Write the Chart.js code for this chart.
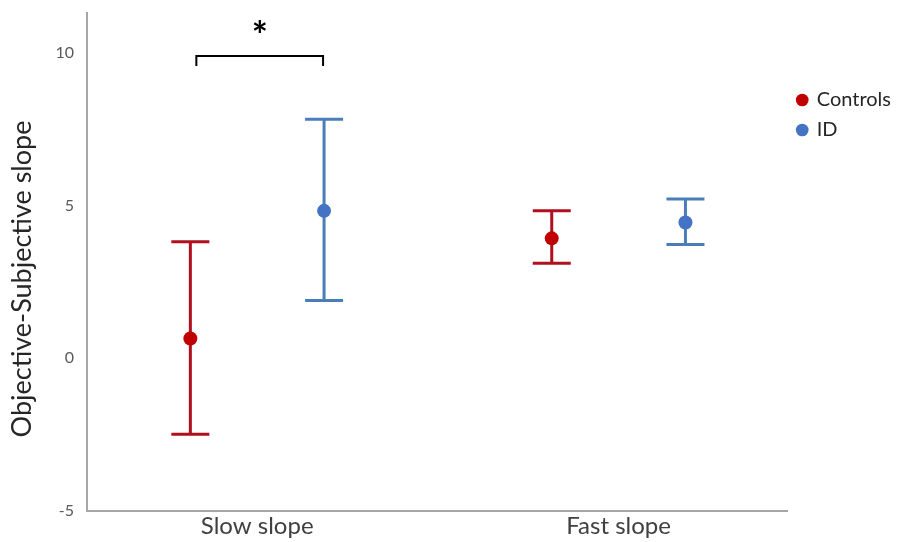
<!DOCTYPE html>
<html>
<head>
<meta charset="utf-8">
<title>Objective-Subjective slope</title>
<script src="https://cdn.jsdelivr.net/npm/chart.js@4.4.0/dist/chart.umd.min.js"></script>
<style>
  html, body { margin: 0; padding: 0; background: #fff; }
  #wrap { width: 901px; height: 542px; }
</style>
</head>
<body>
<div id="wrap"><canvas id="slopeChart"></canvas></div>
<script>
// Conditions along the x axis
const conditions = ['Slow slope', 'Fast slope'];

// Group means with lower / upper error bounds, one entry per condition
const controlsMean = [0.65, 3.93];
const controlsLow = [-2.49, 3.11];
const controlsHigh = [3.82, 4.83];

const idMean = [4.83, 4.45];
const idLow = [1.89, 3.73];
const idHigh = [7.83, 5.22];

const yTicks = [-5, 0, 5, 10];

// Significant difference between groups (condition index, bracket level)
const sigCondition = [0];
const sigLevel = [9.9];
const sigMark = ['*'];

const FONT = 'Lato, "Open Sans", sans-serif';
const groupOffset = 0.185;
const capHalf = 19;

function points(means, shift) {
    return means.map((m, i) => ({ x: i + 1 + shift, y: m }));
}

// Whiskers with caps, drawn under the markers
const errorBars = {
    id: 'errorBars',
    beforeDatasetsDraw(chart) {
        const { ctx, scales: { x, y } } = chart;
        chart.data.datasets.forEach((ds, di) => {
            if (!chart.isDatasetVisible(di)) return;
            ctx.save();
            ctx.strokeStyle = ds.errorColor;
            ctx.lineWidth = 3;
            ds.data.forEach((pt, i) => {
                const px = x.getPixelForValue(pt.x);
                const top = y.getPixelForValue(ds.high[i]);
                const bot = y.getPixelForValue(ds.low[i]);
                ctx.beginPath();
                ctx.moveTo(px, top);
                ctx.lineTo(px, bot);
                ctx.moveTo(px - capHalf, top);
                ctx.lineTo(px + capHalf, top);
                ctx.moveTo(px - capHalf, bot);
                ctx.lineTo(px + capHalf, bot);
                ctx.stroke();
            });
            ctx.restore();
        });
    }
};

// Significance bracket, star and the rotated y title
const annotations = {
    id: 'annotations',
    afterDraw(chart) {
        const { ctx, scales: { x, y } } = chart;
        ctx.save();
        sigCondition.forEach((c, k) => {
            const left = x.getPixelForValue(c + 1 - groupOffset) + 6;
            const right = x.getPixelForValue(c + 1 + groupOffset) - 1;
            const top = y.getPixelForValue(sigLevel[k]);
            ctx.strokeStyle = '#000';
            ctx.lineWidth = 2;
            ctx.beginPath();
            ctx.moveTo(left, top + 10);
            ctx.lineTo(left, top);
            ctx.lineTo(right, top);
            ctx.lineTo(right, top + 10);
            ctx.stroke();
            ctx.fillStyle = '#000';
            ctx.font = 'bold 38px ' + FONT;
            ctx.textAlign = 'center';
            ctx.textBaseline = 'middle';
            ctx.fillText(sigMark[k], (left + right) / 2, top - 19);
        });

        ctx.translate(22, 279);
        ctx.rotate(-Math.PI / 2);
        ctx.fillStyle = '#262626';
        ctx.font = '27px ' + FONT;
        ctx.textAlign = 'center';
        ctx.textBaseline = 'middle';
        ctx.fillText('Objective-Subjective slope', 0, 0);
        ctx.restore();
    }
};

new Chart(document.getElementById('slopeChart'), {
    type: 'scatter',
    data: {
        datasets: [
            {
                label: 'Controls',
                data: points(controlsMean, -groupOffset),
                low: controlsLow,
                high: controlsHigh,
                errorColor: '#B0101E',
                backgroundColor: '#C00000',
                borderColor: '#C00000',
                borderWidth: 0,
                pointRadius: 7,
                pointHoverRadius: 7,
                pointStyle: 'circle'
            },
            {
                label: 'ID',
                data: points(idMean, groupOffset),
                low: idLow,
                high: idHigh,
                errorColor: '#4A7EBB',
                backgroundColor: '#4472C4',
                borderColor: '#4472C4',
                borderWidth: 0,
                pointRadius: 7,
                pointHoverRadius: 7,
                pointStyle: 'circle'
            }
        ]
    },
    options: {
        responsive: true,
        maintainAspectRatio: false,
        animation: false,
        layout: { padding: { top: 13, right: 0, left: 0, bottom: 0 } },
        plugins: {
            tooltip: { enabled: false },
            legend: {
                position: 'right',
                align: 'start',
                title: {
                    display: true,
                    text: ' ',
                    font: { size: 10 },
                    padding: { top: 55, bottom: 0 }
                },
                labels: {
                    usePointStyle: true,
                    boxWidth: 9,
                    boxHeight: 9,
                    padding: 10,
                    color: '#262626',
                    font: { family: FONT, size: 20 }
                }
            }
        },
        scales: {
            x: {
                type: 'linear',
                min: 0.529,
                max: 2.468,
                grid: { display: false, drawTicks: false },
                border: { display: true, color: '#A6A6A6', width: 2 },
                afterFit: s => { s.height = 31; s.paddingLeft = 0; s.paddingRight = 0; },
                afterBuildTicks: s => { s.ticks = conditions.map((c, i) => ({ value: i + 1 })); },
                ticks: {
                    padding: 1,
                    color: '#404040',
                    font: { family: FONT, size: 24 },
                    callback: v => conditions[v - 1]
                }
            },
            y: {
                min: -5,
                max: 11.31,
                grid: { display: false, drawTicks: false },
                border: { display: true, color: '#A6A6A6', width: 2 },
                afterFit: s => { s.width = 87; s.paddingTop = 0; s.paddingBottom = 0; },
                afterBuildTicks: s => { s.ticks = yTicks.map(v => ({ value: v })); },
                ticks: {
                    padding: 13,
                    color: '#595959',
                    font: { family: FONT, size: 16 }
                }
            }
        }
    },
    plugins: [errorBars, annotations]
});
</script>
</body>
</html>
